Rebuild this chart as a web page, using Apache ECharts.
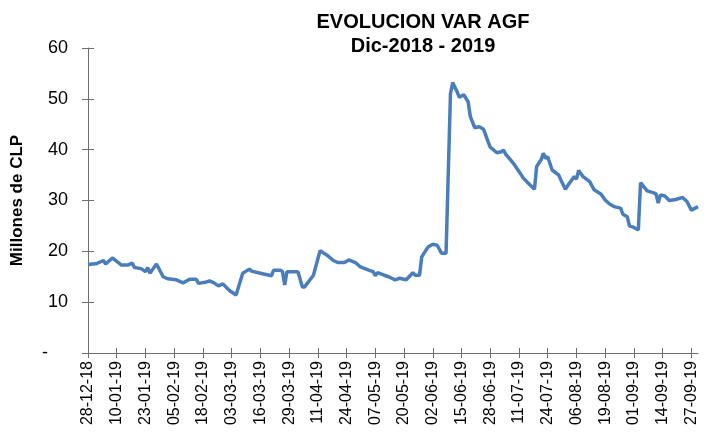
<!DOCTYPE html>
<html>
<head>
<meta charset="utf-8">
<script src="https://cdn.jsdelivr.net/npm/echarts@6/dist/echarts.min.js"></script>
<style>html,body{margin:0;padding:0;background:#fff}#c{width:710px;height:439px}</style>
</head>
<body>
<div id="c"></div>
<script>
const titleLines = ['EVOLUCION VAR AGF', 'Dic-2018 - 2019'];
const yAxisName = 'Millones de CLP';
const startDate = '2018-12-28';
const tickLabels = ['28-12-18','10-01-19','23-01-19','05-02-19','18-02-19','03-03-19','16-03-19','29-03-19','11-04-19','24-04-19','07-05-19','20-05-19','02-06-19','15-06-19','28-06-19','11-07-19','24-07-19','06-08-19','19-08-19','01-09-19','14-09-19','27-09-19'];
const dates = ['2018-12-28','2019-01-01','2019-01-04','2019-01-05','2019-01-08','2019-01-11','2019-01-12','2019-01-15','2019-01-17','2019-01-18','2019-01-21','2019-01-23','2019-01-24','2019-01-25','2019-01-28','2019-01-31','2019-02-02','2019-02-06','2019-02-09','2019-02-12','2019-02-15','2019-02-16','2019-02-19','2019-02-21','2019-02-23','2019-02-25','2019-02-27','2019-03-02','2019-03-05','2019-03-08','2019-03-11','2019-03-12','2019-03-16','2019-03-21','2019-03-22','2019-03-25','2019-03-26','2019-03-27','2019-03-28','2019-04-02','2019-04-04','2019-04-05','2019-04-09','2019-04-12','2019-04-15','2019-04-18','2019-04-20','2019-04-23','2019-04-25','2019-04-28','2019-04-30','2019-05-04','2019-05-06','2019-05-07','2019-05-08','2019-05-11','2019-05-13','2019-05-16','2019-05-18','2019-05-21','2019-05-24','2019-05-25','2019-05-27','2019-05-28','2019-05-30','2019-05-31','2019-06-02','2019-06-04','2019-06-06','2019-06-08','2019-06-10','2019-06-11','2019-06-13','2019-06-14','2019-06-16','2019-06-18','2019-06-19','2019-06-21','2019-06-23','2019-06-25','2019-06-27','2019-06-28','2019-07-01','2019-07-03','2019-07-04','2019-07-05','2019-07-07','2019-07-09','2019-07-11','2019-07-13','2019-07-15','2019-07-18','2019-07-19','2019-07-21','2019-07-22','2019-07-23','2019-07-24','2019-07-26','2019-07-29','2019-07-30','2019-08-01','2019-08-02','2019-08-05','2019-08-06','2019-08-07','2019-08-09','2019-08-12','2019-08-14','2019-08-17','2019-08-19','2019-08-21','2019-08-23','2019-08-26','2019-08-27','2019-08-29','2019-08-30','2019-09-01','2019-09-03','2019-09-04','2019-09-07','2019-09-10','2019-09-11','2019-09-12','2019-09-13','2019-09-15','2019-09-17','2019-09-20','2019-09-23','2019-09-25','2019-09-27','2019-09-30'];
const values = [17.4,17.6,18.2,17.5,18.7,17.7,17.3,17.3,17.7,16.8,16.6,16.0,16.8,15.7,17.5,15.0,14.6,14.4,13.8,14.5,14.5,13.7,13.9,14.2,13.8,13.2,13.6,12.3,11.4,15.7,16.5,16.1,15.7,15.2,16.3,16.3,16.0,13.4,16.0,16.0,13.0,13.0,15.3,20.1,19.3,18.2,17.8,17.8,18.3,17.8,17.0,16.3,16.0,15.2,15.8,15.3,15.0,14.4,14.7,14.4,15.8,15.3,15.3,18.9,20.3,20.9,21.4,21.2,19.6,19.6,51.0,53.2,51.4,50.3,50.8,49.4,46.5,44.3,44.5,44.0,41.6,40.5,39.4,39.6,39.9,39.1,38.1,37.0,35.7,34.4,33.5,32.2,36.7,38.0,39.3,38.3,38.6,36.0,35.0,34.0,32.2,32.9,34.7,34.2,35.9,34.7,33.7,32.1,31.3,30.1,29.3,28.8,28.5,27.3,26.8,25.0,24.7,24.2,33.5,31.9,31.5,31.3,29.5,31.1,30.9,30.0,30.2,30.6,29.8,28.1,28.8];

const DAY = 86400000;
const t0 = Date.parse(startDate);
const dayOf = d => Math.round((Date.parse(d) - t0) / DAY);
const tickStep = 13;
const tickValues = tickLabels.map((_, i) => i * tickStep);
const lastDay = dayOf(dates[dates.length - 1]);
const seriesData = dates.map((d, i) => [dayOf(d), values[i]]);

const chart = echarts.init(document.getElementById('c'), null, {renderer: 'canvas'});
const axisColor = '#6f6f6f';
const font = 'Liberation Sans, Arial, sans-serif';
chart.setOption({
  animation: false,
  backgroundColor: '#ffffff',
  title: {
    text: titleLines.join('\n'),
    left: 418,
    top: 5,
    textAlign: 'center',
    textStyle: {fontFamily: font, fontSize: 20, fontWeight: 'bold', color: '#000', lineHeight: 24}
  },
  grid: {left: 88, right: 12, top: 48, bottom: 86, containLabel: false},
  xAxis: [{
    type: 'value', min: 0, max: lastDay, interval: tickStep, position: 'bottom', offset: -5,
    axisLine: {show: false},
    axisTick: {show: true, length: 10, customValues: tickValues, lineStyle: {color: axisColor}},
    axisLabel: {show: true, rotate: 90, margin: 13, customValues: tickValues, fontFamily: font, fontSize: 16, color: '#000',
      formatter: v => tickLabels[Math.round(v / tickStep)] || ''},
    splitLine: {show: false}
  }, {
    type: 'value', min: 0, max: lastDay, position: 'bottom', offset: 0,
    axisLine: {show: true, lineStyle: {color: axisColor, width: 1}},
    axisTick: {show: false},
    axisLabel: {show: false},
    splitLine: {show: false}
  }],
  yAxis: [{
    type: 'value', min: 0, max: 60, interval: 10,
    name: yAxisName, nameLocation: 'middle', nameGap: 62, nameRotate: 90,
    nameTextStyle: {fontFamily: font, fontSize: 17, fontWeight: 'bold', color: '#000'},
    axisLine: {show: true, lineStyle: {color: axisColor, width: 1}},
    axisTick: {show: false},
    axisLabel: {fontFamily: font, fontSize: 18, color: '#000', margin: 20,
      formatter: v => v === 0 ? '-    ' : String(v)},
    splitLine: {show: false}
  }, {
    type: 'value', min: 0, max: 60, interval: 10, position: 'left', offset: -6,
    axisLine: {show: false},
    axisTick: {show: true, length: 12, lineStyle: {color: axisColor}},
    axisLabel: {show: false},
    splitLine: {show: false}
  }],
  series: [{
    type: 'line',
    xAxisIndex: 0,
    yAxisIndex: 0,
    data: seriesData,
    showSymbol: false,
    symbol: 'none',
    lineStyle: {color: '#4a7ebb', width: 3.5},
    itemStyle: {color: '#4a7ebb'}
  }]
});
</script>
</body>
</html>
